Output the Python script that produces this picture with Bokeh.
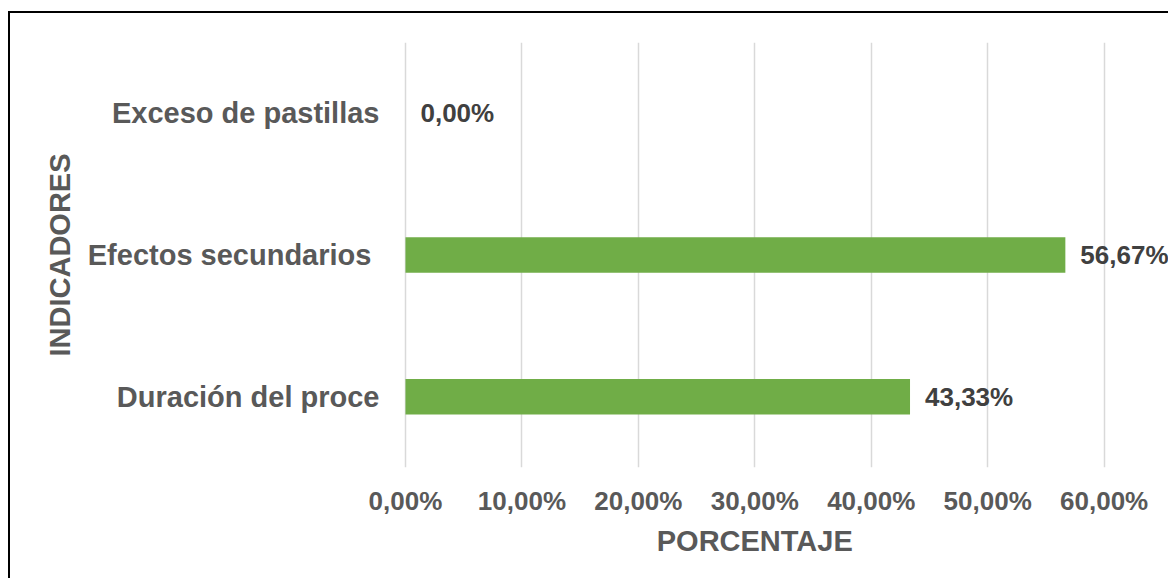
from bokeh.plotting import figure
from bokeh.models import ColumnDataSource, LabelSet, FactorRange, FixedTicker, CustomJSTickFormatter
from bokeh.core.properties import value
from bokeh.embed import file_html
from bokeh.resources import INLINE

categories = ["Duración del proce", "Efectos secundarios ", "Exceso de pastillas"]
values = [0.4333, 0.5667, 0.0]
labels = ["43,33%", "56,67%", "0,00%"]
ticks = [0.0, 0.1, 0.2, 0.3, 0.4, 0.5, 0.6]

FONT = "Liberation Sans"
GREY = "#595959"

src = ColumnDataSource(dict(cat=categories, val=values, lab=labels))

p = figure(width=1160, height=567, y_range=FactorRange(*categories), x_range=(-0.0017, 0.657),
           output_backend="svg", toolbar_location=None,
           min_border_left=393, min_border_right=0, min_border_top=29, min_border_bottom=113)
p.margin = (11, 0, 0, 8)
p.styles = {"border-left": "2px solid black", "border-top": "2px solid black"}
p.outline_line_color = None

p.hbar(y="cat", right="val", left=0, height=0.25, source=src, fill_color="#70AD47", line_color=None)

ls = LabelSet(x="val", y="cat", text="lab", source=src, x_offset=15, text_baseline="middle",
              text_font=value(FONT), text_font_style="bold", text_font_size="26px", text_color="#404040")
p.add_layout(ls)

p.xaxis.ticker = FixedTicker(ticks=ticks)
p.xaxis.formatter = CustomJSTickFormatter(code="return (tick*100).toFixed(2).replace('.', ',') + '%';")
p.xaxis.axis_line_color = None
p.xaxis.major_tick_line_color = None
p.xaxis.minor_tick_line_color = None
p.xaxis.major_tick_out = 0
p.xaxis.major_tick_in = 0
p.xaxis.major_label_standoff = 18
p.xaxis.major_label_text_font = FONT
p.xaxis.major_label_text_font_style = "bold"
p.xaxis.major_label_text_font_size = "26px"
p.xaxis.major_label_text_color = GREY
p.xaxis.axis_label = "PORCENTAJE" + " " * 8
p.xaxis.axis_label_text_font = FONT
p.xaxis.axis_label_text_font_style = "bold"
p.xaxis.axis_label_text_font_size = "29px"
p.xaxis.axis_label_text_color = GREY
p.xaxis.axis_label_standoff = 6

p.yaxis.axis_line_color = None
p.yaxis.major_tick_line_color = None
p.yaxis.major_tick_out = 0
p.yaxis.major_tick_in = 0
p.yaxis.major_label_standoff = 24
p.yaxis.major_label_text_font = FONT
p.yaxis.major_label_text_font_style = "bold"
p.yaxis.major_label_text_font_size = "29px"
p.yaxis.major_label_text_color = GREY
p.yaxis.axis_label = "INDICADORES"
p.yaxis.axis_label_text_font = FONT
p.yaxis.axis_label_text_font_style = "bold"
p.yaxis.axis_label_text_font_size = "29px"
p.yaxis.axis_label_text_color = GREY
p.yaxis.axis_label_standoff = 9

p.ygrid.grid_line_color = None
p.xgrid.grid_line_color = "#D9D9D9"
p.xgrid.grid_line_width = 1.5

open("out.html", "w").write(file_html(p, INLINE))
